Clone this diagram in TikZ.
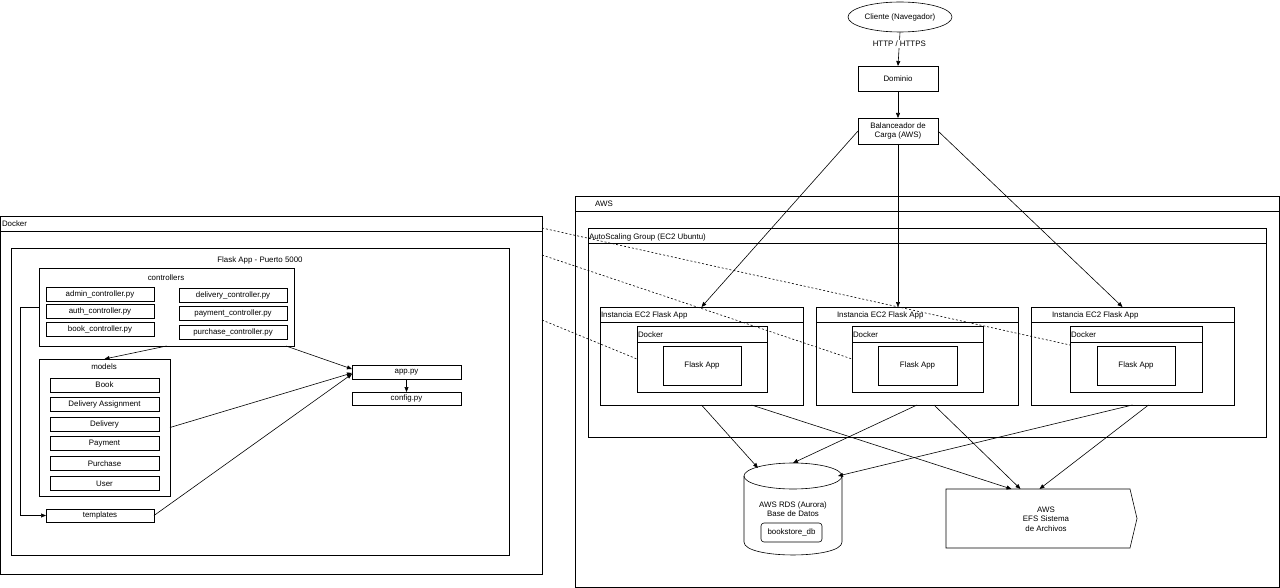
\documentclass[tikz,border=0pt]{standalone}
\usepackage{fontspec}
\setmainfont{Liberation Sans}
\usetikzlibrary{arrows.meta,shapes.geometric,calc}
\begin{document}
\begin{tikzpicture}[x=1pt,y=-1pt, line width=0.6pt,
  every node/.style={font=\fontsize{7.9}{9.6}\selectfont},
  sz/.style 2 args={minimum width=#1pt, minimum height=#2pt},
  box/.style={draw, rectangle, inner sep=0pt, outer sep=0pt, align=center},
  ghost/.style={rectangle, inner sep=0pt, outer sep=0pt},
  lbl/.style={inner sep=0pt, outer sep=0pt, align=center},
  arr/.style={-{Triangle[length=5pt,width=4pt]}},
  dsh/.style={dash pattern=on 2pt off 2pt}]
\useasboundingbox (0,0) rectangle (1280,588);

% ---------------- Left: Docker ----------------
\node[box, sz={541.5}{358}] (dockL) at (271.25,395) {};
\draw ([yshift=-15pt]dockL.north west) -- ([yshift=-15pt]dockL.north east);
\node[lbl, anchor=west] (dockLt) at (2,224) {Docker};
\node[box, sz={498}{307}] (flask) at (260,401.5) {};
\node[lbl] (flaskt) at (260,260) {Flask App - Puerto 5000};

\node[box, sz={255}{78}] (ctrl) at (166.5,307) {};
\node[lbl] (ctrlt) at (166,278) {controllers};
\node[box, sz={108}{14}] (c1) at (100,294) {admin\_controller.py};
\node[box, sz={108}{14}] (c2) at (100,311.5) {auth\_controller.py};
\node[box, sz={108}{14}] (c3) at (100,329.5) {book\_controller.py};
\node[box, sz={108}{14}] (c4) at (233,295.5) {delivery\_controller.py};
\node[box, sz={108}{14}] (c5) at (233,313.5) {payment\_controller.py};
\node[box, sz={108}{14}] (c6) at (233,332.5) {purchase\_controller.py};

\node[box, sz={131}{137}] (mod) at (104.5,427.5) {};
\node[lbl] (modt) at (104,367) {models};
\node[box, sz={109}{14}] (m1) at (104.5,385) {Book};
\node[box, sz={109}{14}] (m2) at (104.5,404.5) {Delivery Assignment};
\node[box, sz={109}{14}] (m3) at (104.5,424.5) {Delivery};
\node[box, sz={109}{14}] (m4) at (104.5,443.5) {Payment};
\node[box, sz={109}{14}] (m5) at (104.5,463.5) {Purchase};
\node[box, sz={109}{14}] (m6) at (104.5,483.5) {User};

\node[box, sz={108}{13}] (tpl) at (100,515.5) {templates};
\node[box, sz={109}{14}] (app) at (406.5,372) {app.py};
\node[box, sz={109}{13}] (cfg) at (406.5,398.5) {config.py};

\draw[arr] (ctrl.south) -- (mod.north);
\draw[arr] ([xshift=-8pt]ctrl.south east) -- ([yshift=3pt]app.west);
\draw[arr] (mod.east) -- ([yshift=-1pt]app.west);
\draw[arr] (tpl.east) -- ([yshift=-2pt]app.west);
\draw[arr] (app.south) -- (cfg.north);
\draw[arr] (ctrl.west) -- ++(-19,0) |- (tpl.west);

% ---------------- Top: client ----------------
\node[draw, ellipse, minimum width=104pt, minimum height=30pt, inner sep=0pt] (cli) at (900,17) {Cliente (Navegador)};
\node[box, sz={80}{25}] (dom) at (898,78.5) {Dominio};
\node[box, sz={80}{26}] (bal) at (898,131) {Balanceador de\\Carga (AWS)};
\draw[arr] (cli.south) -- node[pos=0.35, fill=white, inner sep=1pt] {HTTP / HTTPS} (dom.north);
\draw[arr] (dom.south) -- (bal.north);

% ---------------- AWS ----------------
\node[box, sz={704}{391}] (aws) at (927,391.5) {};
\draw ([yshift=-15pt]aws.north west) -- ([yshift=-15pt]aws.north east);
\node[lbl] (awst) at (604,204) {AWS};

\node[box, sz={678}{209}] (asg) at (927,332.5) {};
\draw ([yshift=-15pt]asg.north west) -- ([yshift=-15pt]asg.north east);
\node[lbl, anchor=west] (asgt) at (589,237) {AutoScaling Group (EC2 Ubuntu)};

\node[box, sz={203}{98}] (inst1) at (701.5,356) {};
\node[box, sz={202}{98}] (inst2) at (917,356) {};
\node[box, sz={203}{98}] (inst3) at (1132.5,356) {};
\foreach \i in {inst1,inst2,inst3}
  \draw ([yshift=-15pt]\i.north west) -- ([yshift=-15pt]\i.north east);
\node[lbl, anchor=west] (inst1t) at (601,315) {Instancia EC2 Flask App};
\node[lbl, anchor=west] (inst2t) at (837,315) {Instancia EC2 Flask App};
\node[lbl, anchor=west] (inst3t) at (1052,315) {Instancia EC2 Flask App};

\node[box, sz={130}{66}] (dock1) at (702,359) {};
\node[box, sz={131}{66}] (dock2) at (917.5,359) {};
\node[box, sz={132}{66}] (dock3) at (1136,359) {};
\foreach \i in {dock1,dock2,dock3}
  \draw ([yshift=-16pt]\i.north west) -- ([yshift=-16pt]\i.north east);
\node[lbl, anchor=west] (dock1t) at (638,335) {Docker};
\node[lbl, anchor=west] (dock2t) at (853,335) {Docker};
\node[lbl, anchor=west] (dock3t) at (1071,335) {Docker};

\node[box, sz={78}{39}] (fa1) at (702,365.5) {Flask App};
\node[box, sz={79}{39}] (fa2) at (917.5,365.5) {Flask App};
\node[box, sz={78}{39}] (fa3) at (1136,365.5) {Flask App};

\draw[arr] (bal.west) -- (inst1.north);
\draw[arr] (bal.south) -- (bal.south |- inst2.north);
\draw[arr] (bal.east) -- ([xshift=-10pt]inst3.north);

\draw[dsh] ([yshift=-12pt]dockL.north east) -- ([yshift=14pt]dock3.west);
\draw[dsh] ([yshift=-39pt]dockL.north east) -- (dock2.west);
\draw[dsh] ([yshift=-104pt]dockL.north east) -- (dock1.west);

% RDS cylinder
\node[ghost, sz={98}{92}] (rds) at (793,509) {};
\draw (793,476) ellipse [x radius=49, y radius=13];
\draw (744,476) -- (744,542) .. controls (744,559.3) and (842,559.3) .. (842,542) -- (842,476);
\node[lbl] (rdst) at (793,509) {AWS RDS (Aurora)\\Base de Datos};
\node[box, rounded corners=3pt, sz={61}{19}] (bdb) at (791.5,532.5) {bookstore\_db};

% EFS
\node[ghost, sz={191}{59}] (efs) at (1041.5,518.5) {};
\draw (946,489) -- (1130,489) -- (1137,518.5) -- (1130,548) -- (946,548) -- cycle;
\node[lbl] (efst) at (1046,519) {AWS\\EFS Sistema\\de Archivos};

\draw[arr] (inst1.south) -- ($(rds.north)+(-35,5)$);
\draw[arr] ([xshift=50pt]inst1.south) -- ([xshift=-30pt]efs.north);
\draw[arr] (inst2.south) -- (rds.north);
\draw[arr] ([xshift=17pt]inst2.south) -- ([xshift=-21pt]efs.north);
\draw[arr] (inst3.south) -- ($(rds.north east)+(-4,13)$);
\draw[arr] ([xshift=16pt]inst3.south) -- ([xshift=-2pt]efs.north);
\end{tikzpicture}
\end{document}
